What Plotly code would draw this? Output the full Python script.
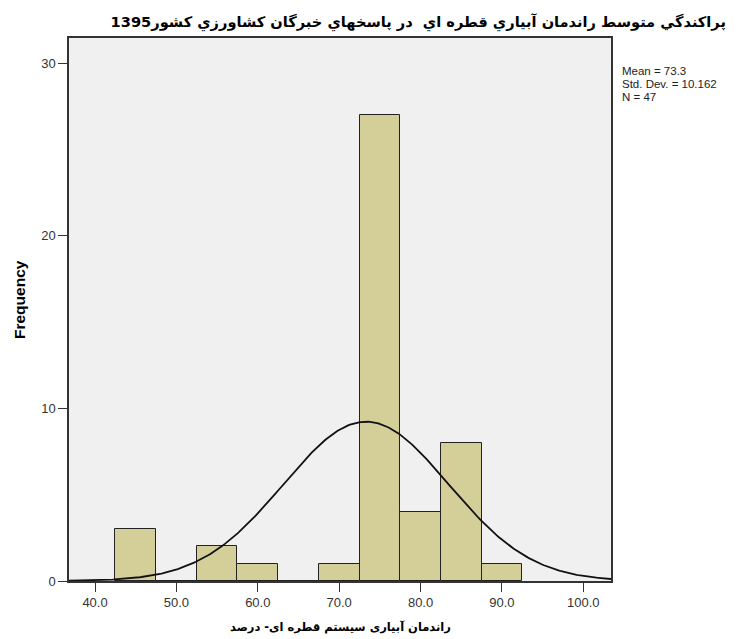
import numpy as np
import plotly.graph_objects as go

bin_centers = [45, 50, 55, 60, 65, 70, 75, 80, 85, 90]
counts = [3, 0, 2, 1, 0, 1, 27, 4, 8, 1]
bin_width = 5
mean_val = 73.3
std_val = 10.162
n_val = 47
x_ticks = [40, 50, 60, 70, 80, 90, 100]
y_ticks = [0, 10, 20, 30]

title_text = "پراكندگي متوسط راندمان آبياري قطره اي  در پاسخهاي خبرگان كشاورزي كشور1395"
x_title = "راندمان آبیاری سیستم قطره ای- درصد"
stat_lines = [f"Mean = {mean_val}", f"Std. Dev. = {std_val}", f"N = {n_val}"]

xr = [36.8, 103.4]
xs = np.linspace(xr[0], xr[1], 300)
ys = n_val * bin_width / (std_val * np.sqrt(2 * np.pi)) * np.exp(-0.5 * ((xs - mean_val) / std_val) ** 2)

fig = go.Figure()
fig.add_trace(go.Bar(
    x=bin_centers, y=counts, width=bin_width,
    marker=dict(color="#d4cf99", line=dict(color="#222222", width=1)),
    hoverinfo="x+y",
))
fig.add_trace(go.Scatter(x=xs, y=ys, mode="lines", line=dict(color="#111111", width=1.8), hoverinfo="skip"))

fig.update_layout(
    width=730, height=631,
    margin=dict(l=61, r=127, t=30, b=58),
    paper_bgcolor="white", plot_bgcolor="#f0f0f0",
    showlegend=False,
    bargap=0,
    font=dict(family="Liberation Sans, Arial", color="#333333", size=13),
    title=dict(text="<b>" + title_text + "</b>", x=0.562, xanchor="center", y=0.978, yanchor="middle",
               font=dict(family="DejaVu Sans", size=14.6, color="#000000")),
)
fig.update_xaxes(
    range=xr, tickvals=x_ticks, ticktext=[f"{v:.1f}" for v in x_ticks],
    ticks="outside", ticklen=9, tickcolor="#333333",
    showline=True, linecolor="#333333", linewidth=1.5, mirror=True,
    showgrid=False, zeroline=False,
)
fig.update_yaxes(
    range=[0, 31.45], tickvals=y_ticks, ticks="outside", ticklen=9, tickcolor="#333333",
    showline=True, linecolor="#333333", linewidth=1.5, mirror=True,
    showgrid=False, zeroline=False,
)
fig.add_annotation(
    xref="paper", yref="paper", x=0.5, y=-0.0847, xanchor="center", yanchor="middle",
    text="<b>" + x_title + "</b>", showarrow=False,
    font=dict(family="DejaVu Sans", size=11.5, color="#000000"),
)
fig.add_annotation(
    xref="paper", yref="paper", x=-0.0904, y=0.5175, xanchor="center", yanchor="middle",
    text="<b>Frequency</b>", showarrow=False, textangle=-90,
    font=dict(family="Liberation Sans, Arial", size=15.5, color="#000000"),
)
for line, yp in zip(stat_lines, [0.9392, 0.9153, 0.8913]):
    fig.add_annotation(
        xref="paper", yref="paper", x=1.0166, y=yp, xanchor="left", yanchor="middle",
        text=line, showarrow=False, align="left",
        font=dict(family="Liberation Sans, Arial", size=11.5, color="#222222"),
    )
fig.write_html("out.html")
